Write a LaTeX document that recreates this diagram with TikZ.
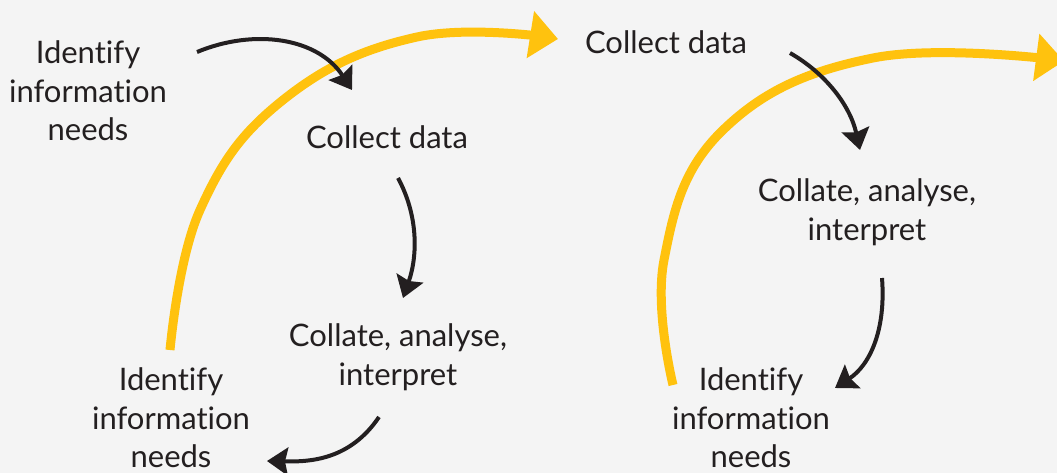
\documentclass[tikz,border=0pt]{standalone}
\usepackage{fontspec}
\setmainfont{Lato}[Ligatures=NoCommon]
\usetikzlibrary{arrows.meta}
\definecolor{bg}{HTML}{F4F4F4}
\definecolor{gold}{HTML}{FFC20E}
\definecolor{ink}{HTML}{231F20}
\begin{document}
\begin{tikzpicture}[x=1pt,y=-1pt,
  lbl/.style={align=center, font=\fontsize{31}{38.5}\selectfont, text=ink, inner sep=0pt},
  flow/.style={draw=ink, line width=4pt, -{Stealth[length=21pt,width=28pt,inset=3pt]}},
  loopline/.style={draw=gold, line width=9pt, -{Triangle[length=28pt,width=46pt]}}]
\fill[bg] (0,0) rectangle (1057,473);
\useasboundingbox (0,0) rectangle (1057,473);
\clip (0,0) rectangle (1057,473);
% labels
\node[lbl] (id1) at (88,91) {Identify\\information\\needs};
\node[lbl] (cd1) at (387,137) {Collect data};
\node[lbl] (ca1) at (398,357) {Collate, analyse,\\interpret};
\node[lbl] (id2) at (171,418) {Identify\\information\\needs};
\node[lbl] (cd2) at (666,42) {Collect data};
\node[lbl] (ca2) at (867,212) {Collate, analyse,\\interpret};
\node[lbl] (id3) at (751,418) {Identify\\information\\needs};
% connector ends
\coordinate (a1s) at (197,52);  \coordinate (a1e) at (352,90);
\coordinate (a2s) at (398,178); \coordinate (a2e) at (403,298);
\coordinate (a3s) at (379,417); \coordinate (a3e) at (267,461);
\coordinate (a4s) at (790,53);  \coordinate (a4e) at (860,150);
\coordinate (a5s) at (882,278); \coordinate (a5e) at (835,388);
% yellow loops
\draw[loopline] plot[smooth, tension=0.7] coordinates {(170,350) (200,210) (283,100) (417,37) (558,39)};
\draw[loopline] plot[smooth, tension=0.7] coordinates {(673,385) (664,260) (723,130) (873,58) (1064,61)};
% black flow arrows
\draw[flow] (a1s) .. controls (255,28) and (318,38) .. (a1e);
\draw[flow] (a2s) .. controls (418,215) and (418,255) .. (a2e);
\draw[flow] (a3s) .. controls (350,460) and (310,462) .. (a3e);
\draw[flow] (a4s) .. controls (825,73) and (850,105) .. (a4e);
\draw[flow] (a5s) .. controls (886,330) and (870,365) .. (a5e);
\end{tikzpicture}
\end{document}
